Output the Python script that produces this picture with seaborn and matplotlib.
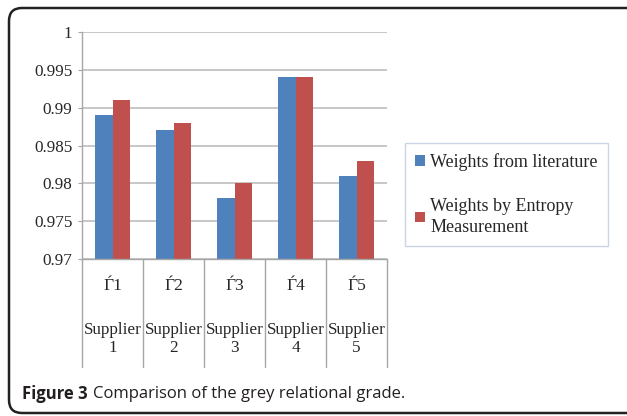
import matplotlib
matplotlib.use("Agg")
import matplotlib.pyplot as plt
import pandas as pd
import seaborn as sns
from matplotlib.patches import FancyBboxPatch

# values
categories = ["Ѓ1", "Ѓ2", "Ѓ3", "Ѓ4", "Ѓ5"]
suppliers = ["Supplier\n1", "Supplier\n2", "Supplier\n3", "Supplier\n4", "Supplier\n5"]
series_names = ["Weights from literature", "Weights by Entropy\nMeasurement"]
lit_weights = [0.989, 0.987, 0.978, 0.994, 0.981]
entropy_weights = [0.991, 0.988, 0.980, 0.994, 0.983]
y_ticks = [0.97, 0.975, 0.98, 0.985, 0.99, 0.995, 1.0]
y_labels = ["0.97", "0.975", "0.98", "0.985", "0.99", "0.995", "1"]

df = pd.DataFrame({
    "cat": categories * 2,
    "value": lit_weights + entropy_weights,
    "series": [series_names[0]] * 5 + [series_names[1]] * 5,
})

sns.set_style("white")
plt.rcParams["font.family"] = ["Liberation Serif", "DejaVu Serif"]

W, H = 627, 416
fig = plt.figure(figsize=(W / 100, H / 100), dpi=100)
ax = fig.add_axes([82 / W, (H - 259) / H, (387 - 82) / W, (259 - 32) / H])

sns.barplot(data=df, x="cat", y="value", hue="series", ax=ax,
            palette=["#4F81BD", "#C0504D"], width=0.57, linewidth=0, saturation=1)

ax.set_ylim(0.97, 1.0)
ax.set_xlim(-0.5, 4.5)
ax.set_yticks(y_ticks)
ax.set_yticklabels(y_labels, fontsize=12.3)
ax.set_axisbelow(True)
ax.yaxis.grid(True, color="#bdbdbd", linewidth=1.2)
ax.tick_params(axis="y", length=3, color="#a6a6a6", pad=4, left=True)
ax.tick_params(axis="x", length=0, pad=14, labelsize=12.5)
ax.set_xlabel("")
ax.set_ylabel("")
for side in ["top", "right"]:
    ax.spines[side].set_visible(False)
for side in ["left", "bottom"]:
    ax.spines[side].set_color("#a6a6a6")
    ax.spines[side].set_linewidth(1.0)

# category dividers below the axis
trans = ax.get_xaxis_transform()
for i in range(len(categories) + 1):
    ax.plot([i - 0.5, i - 0.5], [0, -(367 - 259) / (259 - 32)], transform=trans,
            color="#a6a6a6", linewidth=1.0, clip_on=False)
for i, s in enumerate(suppliers):
    ax.text(i, -(339 - 259) / (259 - 32), s, transform=trans, ha="center", va="center",
            fontsize=12.3, linespacing=1.15)

leg = ax.legend(loc="upper left", bbox_to_anchor=(405 / W, (H - 143) / H),
                bbox_transform=fig.transFigure, frameon=True, fancybox=False,
                fontsize=13, handlelength=0.55, handleheight=0.55, handletextpad=0.3,
                labelspacing=1.5, borderpad=0.55, borderaxespad=0)
for t in leg.get_texts():
    t.set_linespacing(1.3)
leg.get_frame().set_edgecolor("#bccbe0")
leg.get_frame().set_linewidth(1.0)

# rounded outer frame
frame = FancyBboxPatch((9, 3), 660, 405, boxstyle="round,pad=0,rounding_size=13",
                       transform=None, fill=False, edgecolor="#222222", linewidth=1.8)
fig.patches.append(frame)

# caption
cap_font = ["Open Sans", "DejaVu Sans"]
t1 = fig.text(22 / W, (H - 394) / H, "Figure 3", fontsize=12, fontweight="bold",
              family=cap_font, color="#231f20", va="center")
fig.canvas.draw()
bb = t1.get_window_extent()
fig.text((bb.x1 + 5) / W, (H - 394) / H, "Comparison of the grey relational grade.",
         fontsize=12, family=cap_font, color="#231f20", va="center")

fig.savefig("out.png", dpi=100)
